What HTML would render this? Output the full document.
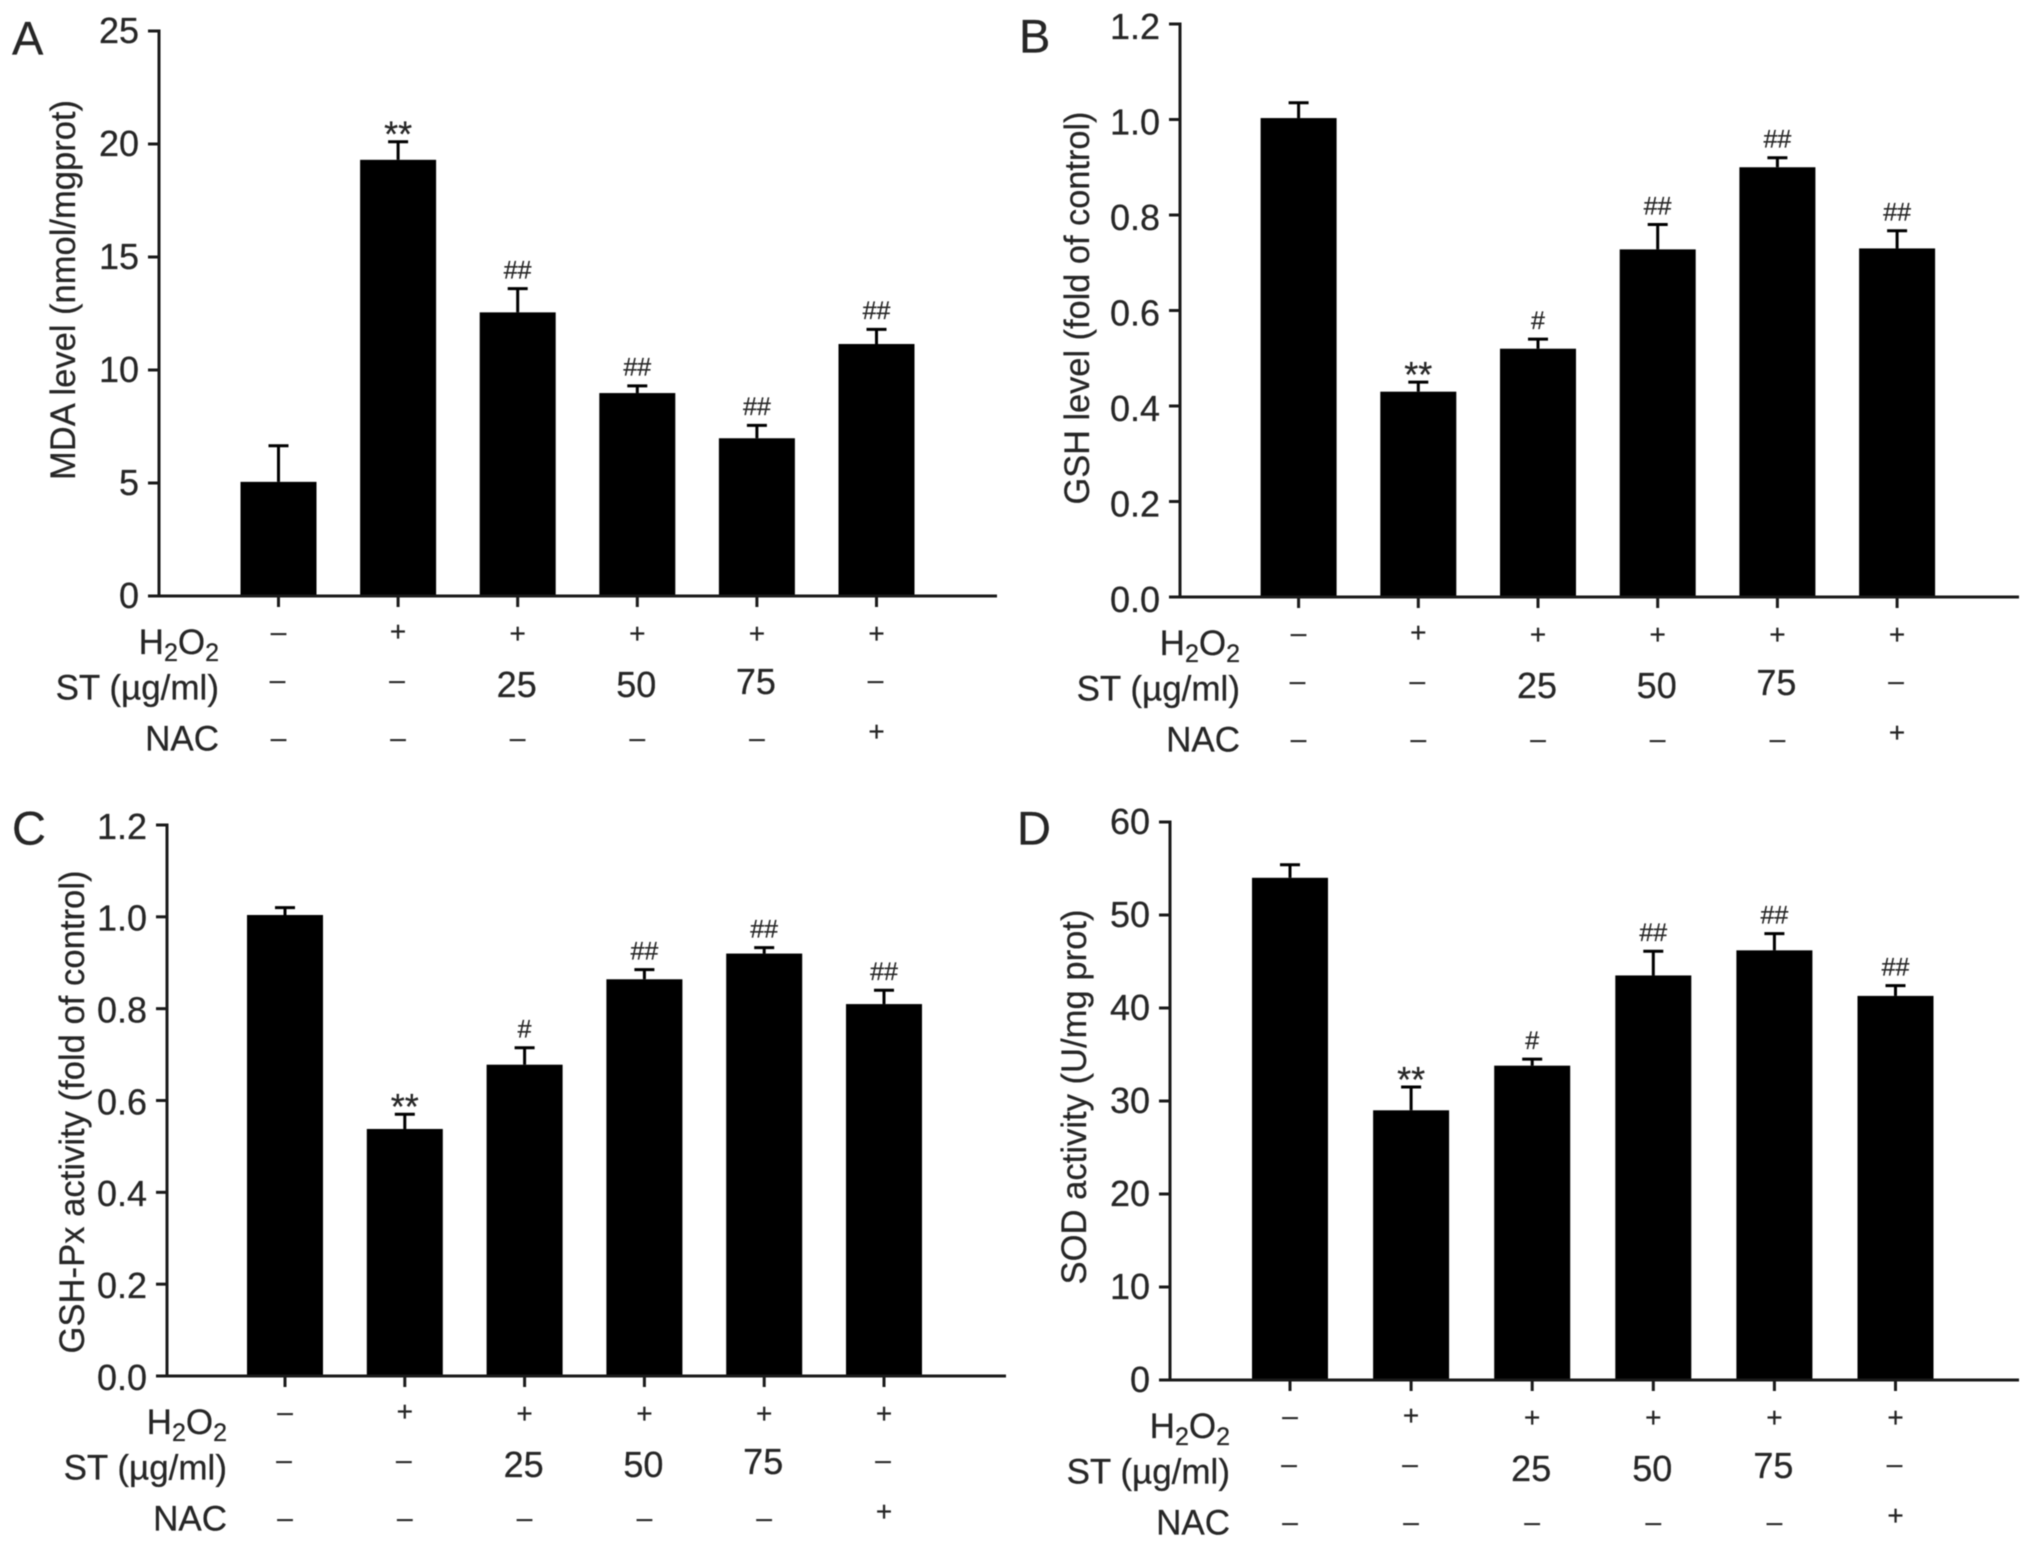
<!DOCTYPE html>
<html lang="en">
<head>
<meta charset="utf-8">
<title>Oxidative stress markers, panels A-D</title>
<style>
html,body{margin:0;padding:0;background:#fff;width:2032px;height:1548px;overflow:hidden}
svg{display:block;filter:blur(0.55px)}
text{font-family:"Liberation Sans",sans-serif;fill:#262626;stroke:#262626;stroke-width:0.25px}
</style>
</head>
<body>
<svg id="figure" xmlns="http://www.w3.org/2000/svg" width="2032" height="1548" viewBox="0 0 2032 1548"></svg>
<script>
// Shared table rows
const h2o2Row = ['–', '+', '+', '+', '+', '+'];
const stRow = ['–', '–', '25', '50', '75', '–'];
const nacRow = ['–', '–', '–', '–', '–', '+'];

// Panel A
const panelAValues = [5.05, 19.3, 12.55, 8.98, 6.98, 11.15];
const panelAErrorTops = [6.65, 20.1, 13.6, 9.3, 7.55, 11.8];
const panelAMarks = ['', '**', '##', '##', '##', '##'];
const panelATicks = ['0', '5', '10', '15', '20', '25'];

// Panel B
const panelBValues = [1.003, 0.43, 0.52, 0.728, 0.9, 0.73];
const panelBErrorTops = [1.035, 0.45, 0.54, 0.78, 0.92, 0.767];
const panelBMarks = ['', '**', '#', '##', '##', '##'];
const panelBTicks = ['0.0', '0.2', '0.4', '0.6', '0.8', '1.0', '1.2'];

// Panel C
const panelCValues = [1.004, 0.538, 0.678, 0.864, 0.92, 0.81];
const panelCErrorTops = [1.02, 0.57, 0.715, 0.885, 0.933, 0.84];
const panelCMarks = ['', '**', '#', '##', '##', '##'];
const panelCTicks = ['0.0', '0.2', '0.4', '0.6', '0.8', '1.0', '1.2'];

// Panel D
const panelDValues = [54, 29, 33.8, 43.5, 46.2, 41.3];
const panelDErrorTops = [55.4, 31.5, 34.5, 46.1, 48, 42.4];
const panelDMarks = ['', '**', '#', '##', '##', '##'];
const panelDTicks = ['0', '10', '20', '30', '40', '50', '60'];

const svg = document.getElementById('figure');
const NS = 'http://www.w3.org/2000/svg';

function make(tag, attrs, parent) {
  const el = document.createElementNS(NS, tag);
  for (const k in attrs) el.setAttribute(k, attrs[k]);
  parent.appendChild(el);
  return el;
}

function label(parent, str, x, cy, size, anchor) {
  const el = make('text', {x: x, y: cy + size * 0.355, 'font-size': size, 'text-anchor': anchor || 'middle'}, parent);
  el.textContent = str;
  return el;
}

// Small per-glyph nudges of the pasted-in table text (layout, relative to the column tick)
function h2o2Dy(i) { return i < 2 ? 35 : (i === 5 ? 37 : 37); }
function stDy(str) { return str === '–' ? 83 : (str === '75' ? 85 : 88); }
function nacDy(str) { return str === '+' ? 135 : 141; }

function drawPanel(p) {
  const g = make('g', {}, svg);
  
  

  const yScale = v => p.y0 + (p.yTop - p.y0) * (v / p.yMax);
  const xScale = i => p.x0 + p.step * i;

  // panel letter
  const letter = label(g, p.letter, p.letterX, p.letterY, 47, 'start');
  
  

  // bars
  p.values.forEach((v, i) => {
    const bar = make('rect', {x: xScale(i) - 38, y: yScale(v), width: 76, height: p.y0 - yScale(v), fill: '#000'}, g);
    
    

    const top = yScale(p.tops[i]);
    const stem = make('line', {x1: xScale(i), x2: xScale(i), y1: yScale(v), y2: top, stroke: '#000', 'stroke-width': 3}, g);
    
    
    const cap = make('line', {x1: xScale(i) - 10, x2: xScale(i) + 10, y1: top, y2: top, stroke: '#000', 'stroke-width': 3}, g);
    
    

    const mark = p.marks[i];
    if (mark) {
      const isStar = mark === '**';
      const sig = label(g, mark, xScale(i), isStar ? top - 8 : top - 19, isStar ? 36 : 25);
      
      
    }

    const tick = make('line', {x1: xScale(i), x2: xScale(i), y1: p.y0, y2: p.y0 + 11, stroke: '#1a1a1a', 'stroke-width': 3}, g);
    
    

    const a = label(g, h2o2Row[i], xScale(i), p.y0 + h2o2Dy(i), 28);
    
    
    const sv = stRow[i];
    const b = label(g, sv, xScale(i) - 1, p.y0 + stDy(sv), sv === '–' ? 28 : 36);
    
    
    const nv = nacRow[i];
    const c = label(g, nv, xScale(i), p.y0 + nacDy(nv), 28);
    
    
  });

  // axes
  const yAxis = make('line', {x1: p.axisX, x2: p.axisX, y1: p.yTop - 1.5, y2: p.y0 + 1.5, stroke: '#1a1a1a', 'stroke-width': 3}, g);
  
  
  const xAxis = make('line', {x1: p.axisX - 10, x2: p.axisEnd, y1: p.y0, y2: p.y0, stroke: '#1a1a1a', 'stroke-width': 3}, g);
  
  

  p.ticks.forEach((t, i) => {
    const y = yScale(parseFloat(t));
    const tk = make('line', {x1: p.axisX - 11, x2: p.axisX, y1: y, y2: y, stroke: '#1a1a1a', 'stroke-width': 3}, g);
    
    
    const tl = label(g, t, p.axisX - 20, y + p.tickDy, 36, 'end');
    
    
  });

  // y axis title
  const title = make('text', {
    transform: 'translate(' + (p.titleX + 10) + ' ' + p.titleCy + ') rotate(-90)',
    'font-size': 35, 'text-anchor': 'middle', textLength: p.titleLen, lengthAdjust: 'spacingAndGlyphs'
  }, g);
  title.textContent = p.title;
  
  

  // row labels
  const right = p.axisX + 60;
  const h = make('text', {x: right, y: p.y0 + 58, 'font-size': 35, 'text-anchor': 'end'}, g);
  
  
  make('tspan', {}, h).textContent = 'H';
  make('tspan', {'font-size': 25, dy: 7}, h).textContent = '2';
  make('tspan', {dy: -7}, h).textContent = 'O';
  make('tspan', {'font-size': 25, dy: 7}, h).textContent = '2';

  const s = label(g, 'ST (µg/ml)', right, p.y0 + 91, 35, 'end');
  
  
  const na = label(g, 'NAC', right, p.y0 + 142, 35, 'end');
  
  
}

drawPanel({letter: 'A', letterX: 12, letterY: 38, tickDy: -1, axisX: 159, axisEnd: 997, y0: 596, yTop: 31, yMax: 25,
  x0: 278.5, step: 119.6, values: panelAValues, tops: panelAErrorTops, marks: panelAMarks, ticks: panelATicks,
  title: 'MDA level (nmol/mgprot)', titleX: 65, titleCy: 290, titleLen: 380});
drawPanel({letter: 'B', letterX: 1019, letterY: 36, tickDy: 2, axisX: 1180, axisEnd: 2019, y0: 597, yTop: 24, yMax: 1.2,
  x0: 1298.6, step: 119.7, values: panelBValues, tops: panelBErrorTops, marks: panelBMarks, ticks: panelBTicks,
  title: 'GSH level (fold of control)', titleX: 1079, titleCy: 308, titleLen: 393});
drawPanel({letter: 'C', letterX: 12, letterY: 828, tickDy: 1, axisX: 167, axisEnd: 1006, y0: 1376, yTop: 825, yMax: 1.2,
  x0: 285, step: 119.8, values: panelCValues, tops: panelCErrorTops, marks: panelCMarks, ticks: panelCTicks,
  title: 'GSH-Px activity (fold of control)', titleX: 74, titleCy: 1112, titleLen: 483});
drawPanel({letter: 'D', letterX: 1017, letterY: 828, tickDy: -1, axisX: 1170, axisEnd: 2019, y0: 1380, yTop: 822, yMax: 60,
  x0: 1290, step: 121.1, values: panelDValues, tops: panelDErrorTops, marks: panelDMarks, ticks: panelDTicks,
  title: 'SOD activity (U/mg prot)', titleX: 1076, titleCy: 1097, titleLen: 375});
</script>
</body>
</html>
